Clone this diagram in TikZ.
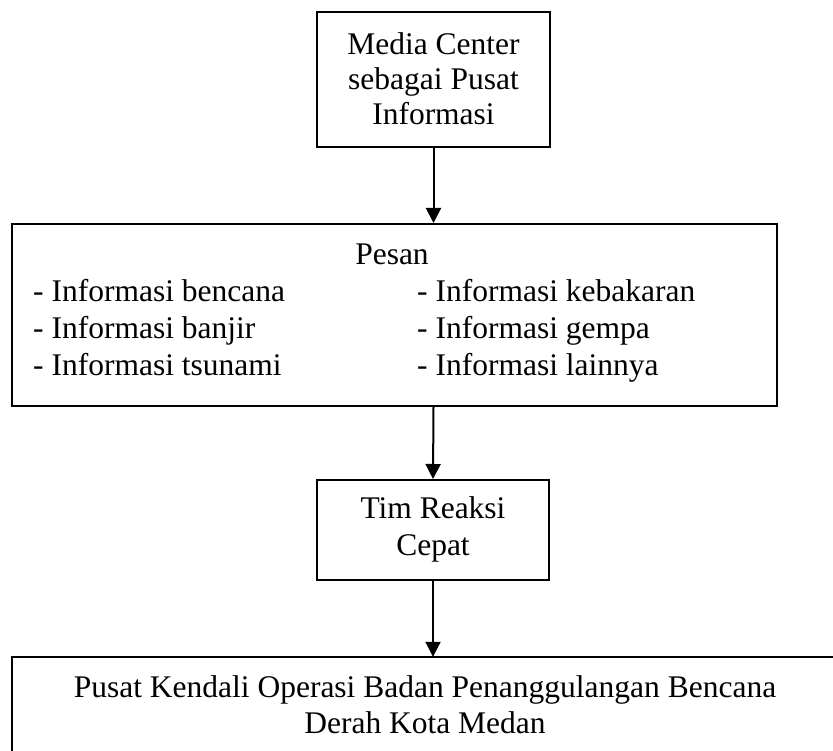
\documentclass[tikz,border=0pt]{standalone}
\usepackage{fontspec}
\setmainfont{Liberation Serif}
\usetikzlibrary{arrows.meta}
\begin{document}
\begin{tikzpicture}[x=1pt,y=-1pt,
  box/.style={draw, line width=2pt, inner sep=0pt},
  ghost/.style={inner sep=0pt},
  txt/.style={anchor=base, inner sep=0pt, font=\fontsize{31.5}{37}\selectfont},
  txtl/.style={txt, anchor=base west},
  link/.style={line width=2pt, -{Triangle[length=15pt,width=15pt]}}]
\useasboundingbox[fill=white] (0,0) rectangle (833,751);
% box 1
\node[box, minimum width=233pt, minimum height=135pt] (media) at (433.5,79.5) {};
\node[txt] (m1) at (433.5,55) {Media Center};
\node[txt] (m2) at (433.5,90) {sebagai Pusat};
\node[txt] (m3) at (433.5,125) {Informasi};
% box 2
\node[box, minimum width=765pt, minimum height=182pt] (pesan) at (394.5,315) {};
\node[txt] (p0) at (392,265) {Pesan};
\node[txtl] (p1) at (33,302) {- Informasi bencana};
\node[txtl] (p2) at (33,339) {- Informasi banjir};
\node[txtl] (p3) at (33,376) {- Informasi tsunami};
\node[txtl] (p4) at (417,302) {- Informasi kebakaran};
\node[txtl] (p5) at (417,339) {- Informasi gempa};
\node[txtl] (p6) at (417,376) {- Informasi lainnya};
% box 3
\node[box, minimum width=232pt, minimum height=100pt] (tim) at (433,530) {};
\node[txt] (t1) at (433,518) {Tim Reaksi};
\node[txt] (t2) at (433,555) {Cepat};
% box 4 (cut by the page edge)
\node[ghost, minimum width=821pt, minimum height=94pt] (kendali) at (422.5,704) {};
\draw[line width=2pt] (kendali.north east) -- (kendali.north west) -- (kendali.south west);
\node[txt] (k1) at (425,697) {Pusat Kendali Operasi Badan Penanggulangan Bencana};
\node[txt] (k2) at (425,733) {Derah Kota Medan};
% connectors
\draw[link] (media.south) -- (media.south |- pesan.north);
\draw[link] (media.south |- pesan.south) -- (tim.north);
\draw[link] (tim.south) -- (tim.south |- kendali.north);
\end{tikzpicture}
\end{document}
